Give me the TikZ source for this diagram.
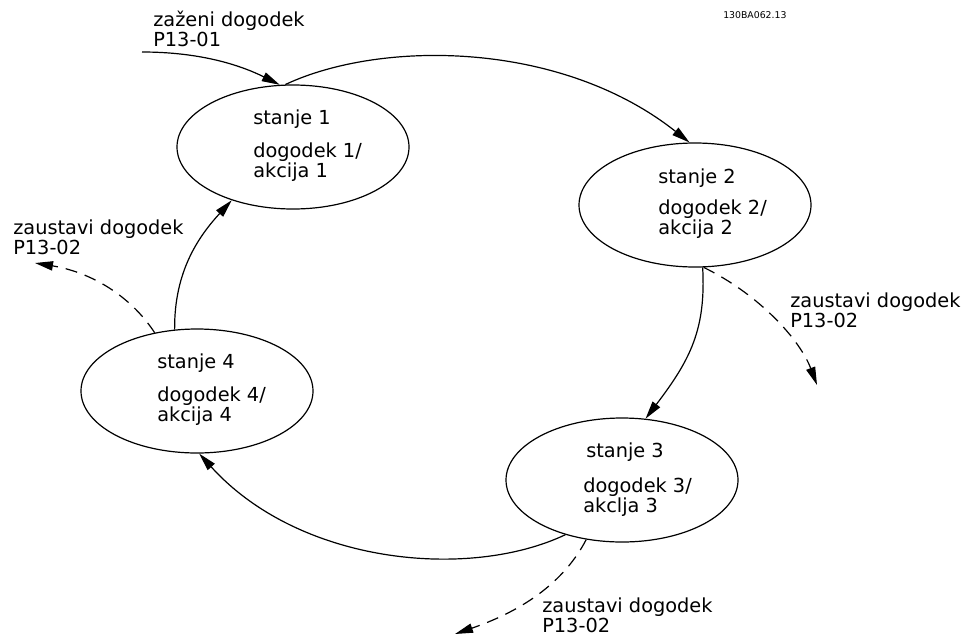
\documentclass[tikz,border=0pt]{standalone}
\usepackage{fontspec}
\setmainfont{DejaVu Sans}
\usetikzlibrary{positioning, arrows.meta, shapes.geometric, calc}

\begin{document}
\begin{tikzpicture}[
  x=0.75pt, y=-0.75pt,
  >={Triangle[length=13.5pt, width=7pt]},
  state/.style={draw, ellipse, line width=0.9pt, inner sep=0pt,
    minimum width=174pt, minimum height=93pt},
  txt/.style={inner sep=0pt, anchor=base west, align=left,
    font=\fontsize{14.5}{15}\selectfont},
  code/.style={inner sep=0pt, anchor=base west, font=\fontsize{7}{8}\selectfont},
  arrow/.style={->, line width=0.9pt},
  stoparrow/.style={->, line width=0.9pt, dash pattern=on 9pt off 6pt}
]
\useasboundingbox (0,0) rectangle (966,636);

% states
\node[state] (st1) at (293,147) {};
\node[state] (st2) at (695,205) {};
\node[state] (st3) at (622,480) {};
\node[state] (st4) at (197,391) {};

% text inside the states (base = last line)
\node[txt] (s1) at ($(st1.center)+(-40,-23)$) {stanje 1};
\node[txt] (d1) at ($(st1.center)+(-40,30)$) {dogodek 1/\\akcija 1};
\node[txt] (s2) at ($(st2.center)+(-37,-22)$) {stanje 2};
\node[txt] (d2) at ($(st2.center)+(-37,29)$) {dogodek 2/\\akcija 2};
\node[txt] (s3) at ($(st3.center)+(-36,-23)$) {stanje 3};
\node[txt] (d3) at ($(st3.center)+(-39,32)$) {dogodek 3/\\akclja 3};
\node[txt] (s4) at ($(st4.center)+(-40,-23)$) {stanje 4};
\node[txt] (d4) at ($(st4.center)+(-40,30)$) {dogodek 4/\\akcija 4};

% event labels
\node[txt] (start) at (153,46) {zaženi dogodek\\P13-01};
\node[txt] (stopA) at (13,254) {zaustavi dogodek\\P13-02};
\node[txt] (stopB) at (790,327) {zaustavi dogodek\\P13-02};
\node[txt] (stopC) at (542,632) {zaustavi dogodek\\P13-02};
\node[code] (id) at (723,18) {130BA062.13};

\coordinate (in) at (142,52);
\coordinate (outA) at (35,263);
\coordinate (outB) at (817,385);
\coordinate (outC) at (455,634);

% transitions
\draw[arrow] (in) .. controls (200,52) and (240,65) .. (st1.102);
\draw[arrow] (st1.97) .. controls (380,40) and (560,40) .. (st2.95);
\draw[arrow] (st2.277) .. controls (706,330) and (690,360) .. (st3.69);
\draw[arrow] (st3.224) .. controls (470,580) and (300,565) .. (st4.272);
\draw[arrow] (st4.110) .. controls (174,270) and (200,235) .. (st1.221);

% stop events
\draw[stoparrow] (st4.126) .. controls (130,295) and (90,272) .. (outA);
\draw[stoparrow] (st2.278) .. controls (760,295) and (800,340) .. (outB);
\draw[stoparrow] (st3.239) .. controls (560,590) and (510,615) .. (outC);

\end{tikzpicture}
\end{document}
